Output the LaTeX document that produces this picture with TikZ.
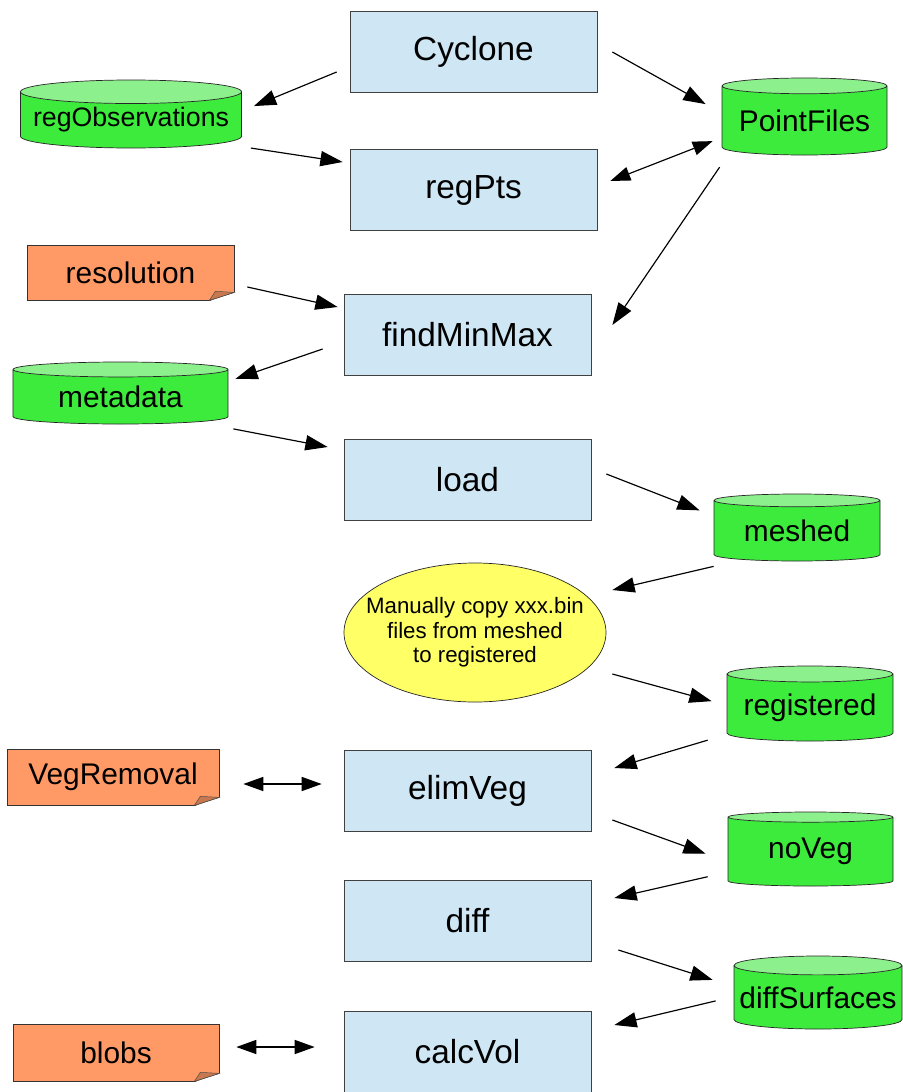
\documentclass[tikz,border=0pt]{standalone}
\usepackage{fontspec}
\setmainfont{Liberation Sans}
\usetikzlibrary{shapes.geometric,arrows.meta,calc}

\definecolor{procblue}{HTML}{CFE7F5}
\definecolor{dbgreen}{HTML}{3DEB3D}
\definecolor{dbtop}{HTML}{8CF08C}
\definecolor{noteorange}{HTML}{FF9966}
\definecolor{notefold}{HTML}{C8784E}
\definecolor{memoyellow}{HTML}{FFFF66}

\tikzset{
  proc/.style={draw=black!75, fill=procblue, line width=0.6pt, minimum width=7.41cm,
    minimum height=2.43cm, font=\fontsize{28.5}{30}\selectfont},
  db/.style={cylinder, shape border rotate=90, aspect=0.12, anchor=shape center,
    draw=black!85, line width=0.6pt,
    cylinder uses custom fill, cylinder body fill=dbgreen, cylinder end fill=dbtop,
    inner sep=0pt, font=\fontsize{25.5}{28}\selectfont},
  note/.style={rectangle, draw=black!80, fill=noteorange, line width=0.6pt, inner sep=0pt,
    font=\fontsize{25.5}{28}\selectfont},
  fold/.style={fill=notefold, draw=black!70, line width=0.4pt},
  memo/.style={ellipse, draw=black!85, fill=memoyellow, line width=0.6pt,
    inner xsep=-15pt, inner ysep=0pt,
    align=center, font=\fontsize{19}{21}\selectfont},
  arr/.style={-{Triangle[length=19pt,width=13pt]}, line width=1pt},
  biarr/.style={{Triangle[length=17pt,width=12pt]}-{Triangle[length=17pt,width=12pt]}, line width=1pt}
}

\begin{document}
\begin{tikzpicture}[x=0.03cm, y=-0.03cm]
  \useasboundingbox (0,0) rectangle (903,1092);

  % processing steps
  \node[proc] (cyclone) at (473.5,51.5) {Cyclone};
  \node[proc] (regpts) at (473.5,190) {regPts};
  \node[proc] (findminmax) at (467.5,334.5) {findMinMax};
  \node[proc] (load) at (467.5,479.5) {load};
  \node[proc] (elimveg) at (467.5,790.5) {elimVeg};
  \node[proc] (diff) at (467.5,921) {diff};
  \node[proc] (calcvol) at (467.5,1052) {calcVol};

  % data stores
  \node[db, minimum width=6.63cm, minimum height=2.04cm, font=\fontsize{22.8}{25}\selectfont]
    (regobs) at (131,114) {regObservations};
  \node[db, minimum width=4.95cm, minimum height=2.31cm] (pointfiles) at (804.5,116.5) {PointFiles};
  \node[db, minimum width=6.45cm, minimum height=1.86cm] (metadata) at (120.5,393) {metadata};
  \node[db, minimum width=4.98cm, minimum height=2.01cm] (meshed) at (797,527.5) {meshed};
  \node[db, minimum width=4.98cm, minimum height=2.25cm] (registered) at (810,703.5) {registered};
  \node[db, minimum width=4.95cm, minimum height=2.22cm] (noveg) at (810.5,849) {noVeg};
  \node[db, minimum width=5.04cm, minimum height=2.19cm] (diffsurf) at (818,992.5) {diffSurfaces};

  % parameter notes, with a turned-up corner
  \node[note, minimum width=6.21cm, minimum height=1.65cm] (resolution) at (130.5,272.5) {resolution};
  \node[note, minimum width=6.36cm, minimum height=1.68cm] (vegremoval) at (113,777) {VegRemoval};
  \node[note, minimum width=6.18cm, minimum height=1.71cm] (blobs) at (116,1052.5) {blobs};
  \foreach \n in {resolution,vegremoval,blobs}{
    \coordinate (c) at (\n.south -| \n.east);
    \fill[white] ($(c)+(-25.5,1)$) -- ($(c)+(1,1)$) -- ($(c)+(1,-8.5)$) -- cycle;
    \draw[black!80, line width=0.6pt] ($(c)+(-25,0)$) -- ($(c)+(0,-8)$);
    \filldraw[fold] ($(c)+(-25,0)$) -- ($(c)+(0,-8)$) -- ($(c)+(-19,-9)$) -- cycle;
  }

  \node[memo, minimum width=7.86cm, minimum height=4.17cm] (manual) at (475,632.5)
    {Manually copy xxx.bin\\files from meshed\\to registered};

  % flow
  \draw[arr] ([shift={(-13,20.5)}]cyclone.west) -- ([shift={(12,-14)}]regobs.east);
  \draw[arr] ([shift={(9,28)}]regobs.east) -- ([shift={(-7,-28)}]regpts.west);
  \draw[arr] ([shift={(15,0.5)}]cyclone.east) -- ([shift={(-16,-16.5)}]pointfiles.west);
  \draw[biarr] ([shift={(-9,20.5)}]pointfiles.west) -- ([shift={(13,-9)}]regpts.east);
  \draw[arr] ([shift={(-2,46.5)}]pointfiles.west) -- ([shift={(21,-9.5)}]findminmax.east);
  \draw[arr] ([shift={(13,14.5)}]resolution.east) -- ([shift={(-6,-27.5)}]findminmax.west);
  \draw[arr] ([shift={(-21,14.5)}]findminmax.west) -- ([shift={(7,-18)}]metadata.east);
  \draw[arr] ([shift={(5,32)}]metadata.east) -- ([shift={(-16,-32.5)}]load.west);
  \draw[arr] ([shift={(15,-5.5)}]load.east) -- ([shift={(-14,-20.5)}]meshed.west);
  \draw[arr] ([shift={(0,35.5)}]meshed.west) -- ([shift={(6,-42.5)}]manual.east);
  \draw[arr] ([shift={(6,41.5)}]manual.east) -- ([shift={(-15,-6.5)}]registered.west);
  \draw[arr] ([shift={(-19,32.5)}]registered.west) -- ([shift={(23,-22.5)}]elimveg.east);
  \draw[biarr] ([shift={(24,7)}]vegremoval.east) -- ([shift={(-22,-6.5)}]elimveg.west);
  \draw[arr] ([shift={(21,29.5)}]elimveg.east) -- ([shift={(-22,2)}]noveg.west);
  \draw[arr] ([shift={(-20,25)}]noveg.west) -- ([shift={(23,-23)}]diff.east);
  \draw[arr] ([shift={(27,29)}]diff.east) -- ([shift={(-21,-17.5)}]diffsurf.west);
  \draw[arr] ([shift={(-18,3.5)}]diffsurf.west) -- ([shift={(23,-27)}]calcvol.east);
  \draw[biarr] ([shift={(17,-5.5)}]blobs.east) -- ([shift={(-29,-5)}]calcvol.west);
\end{tikzpicture}
\end{document}
